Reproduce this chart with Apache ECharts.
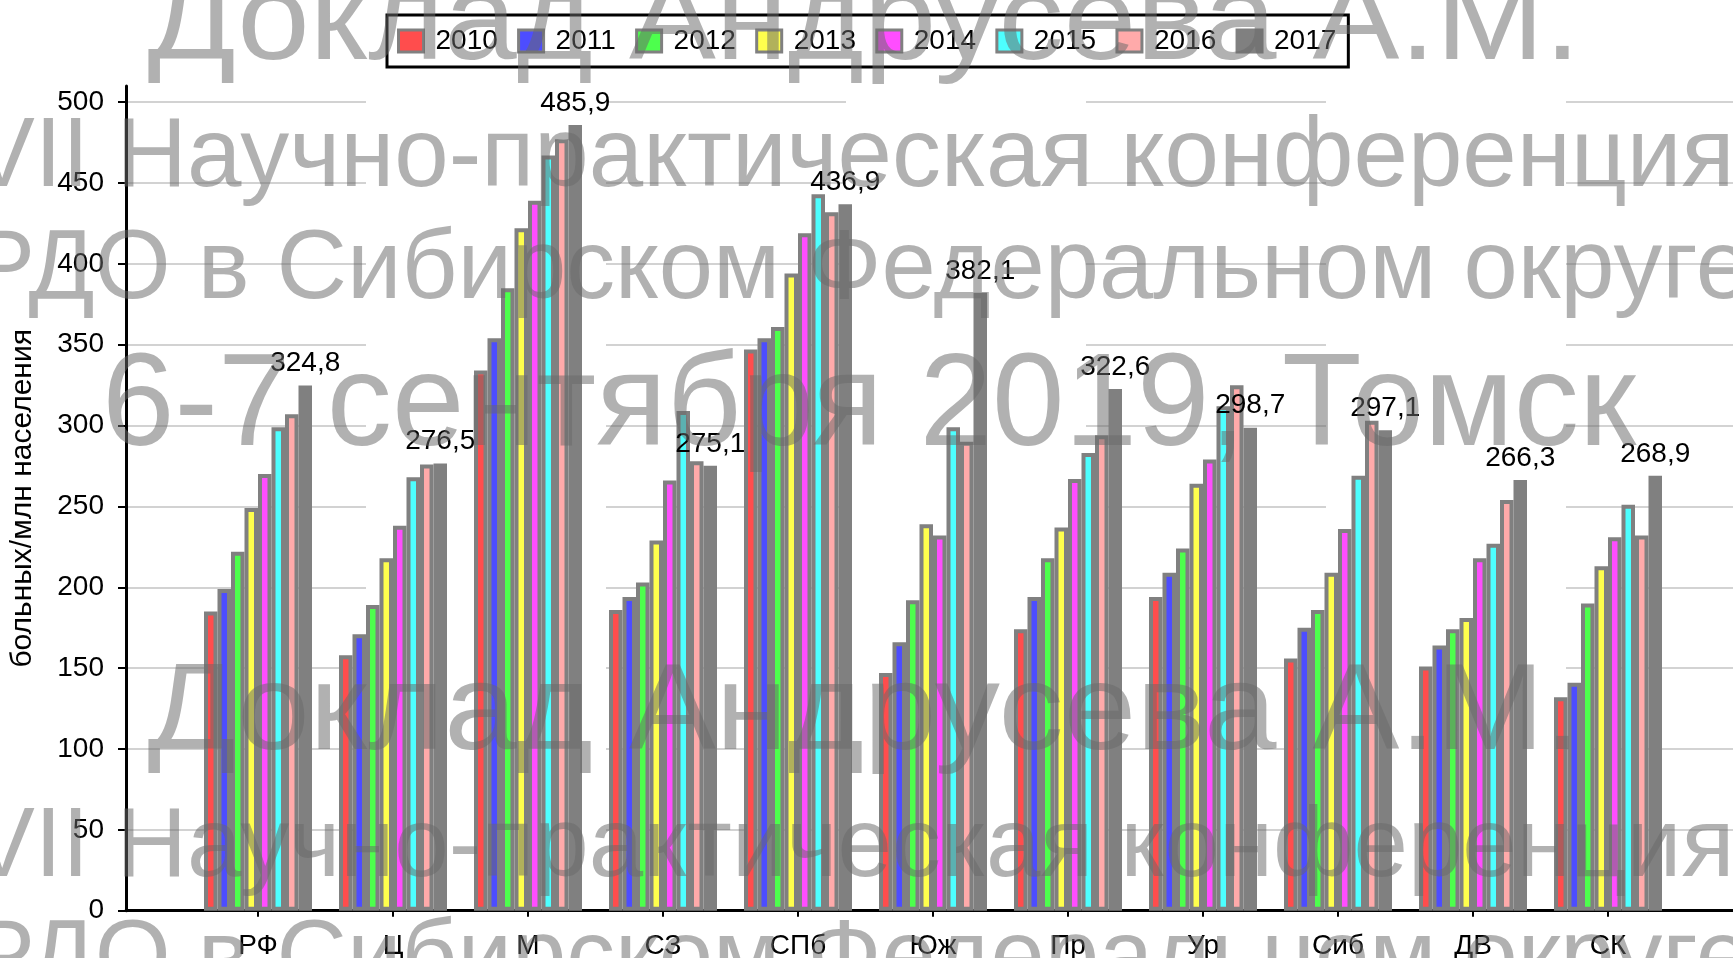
<!DOCTYPE html>
<html>
<head>
<meta charset="utf-8">
<title>больных/млн населения</title>
<script src="https://cdn.jsdelivr.net/npm/echarts@6.0.0/dist/echarts.min.js"></script>
<style>
  html, body { margin: 0; padding: 0; background: #fff; }
  #chart { width: 1733px; height: 958px; }
</style>
</head>
<body>
<div id="chart"></div>
<script>
// regions and years
var categories = ['РФ', 'Ц', 'М', 'СЗ', 'СПб', 'Юж', 'Пр', 'Ур', 'Сиб', 'ДВ', 'СК'];
var years = ['2010', '2011', '2012', '2013', '2014', '2015', '2016', '2017'];

// values per year (2017 values are labelled)
var v2010 = [185, 158, 334, 186, 347, 147, 174, 194, 156, 151, 132];
var v2011 = [199, 171, 354, 194, 354, 166, 194, 209, 175, 164, 141];
var v2012 = [222, 189, 385, 203, 361, 192, 218, 224, 186, 174, 190];
var v2013 = [249, 218, 422, 229, 394, 239, 237, 264, 209, 181, 213];
var v2014 = [270, 238, 439, 266, 419, 232, 267, 279, 236, 218, 231];
var v2015 = [299, 268, 467, 309, 443, 299, 283, 312, 269, 227, 251];
var v2016 = [307, 276, 477, 278, 432, 290, 294, 325, 303, 254, 232];
var v2017 = [324.8, 276.5, 485.9, 275.1, 436.9, 382.1, 322.6, 298.7, 297.1, 266.3, 268.9];

var yTicks = [0, 50, 100, 150, 200, 250, 300, 350, 400, 450, 500];

var seriesValues = [v2010, v2011, v2012, v2013, v2014, v2015, v2016, v2017];
var colors = ['#ff4d4d', '#4d4dff', '#4dff4d', '#ffff4d', '#ff4dff', '#4dffff', '#ffaaaa', '#808080'];

var FONT = "'Liberation Sans', Arial, sans-serif";

// watermark lines (overlay text of the slide)
var watermark = [
  { text: 'Доклад Андрусева А.М.', cx: 864, base: 68, size: 123, w: 1433 },
  { text: 'VII Научно-практическая конференция', cx: 852, base: 193, size: 98, w: 1765 },
  { text: 'РДО в Сибирском Федеральном округе', cx: 860, base: 305, size: 98, w: 1780 },
  { text: '6-7 сентября 2019, Томск', cx: 869, base: 455, size: 131, w: 1534 },
  { text: 'Доклад Андрусева А.М.', cx: 864, base: 758, size: 123, w: 1433 },
  { text: 'VII Научно-практическая конференция', cx: 852, base: 883, size: 98, w: 1765 },
  { text: 'РДО в Сибирском Федеральном округе', cx: 860, base: 995, size: 98, w: 1780 }
];

var measureCtx = document.createElement('canvas').getContext('2d');
var graphics = watermark.map(function (m) {
  measureCtx.font = m.size + 'px ' + FONT;
  var natural = measureCtx.measureText(m.text).width;
  return {
    type: 'text',
    x: m.cx,
    y: m.base - m.size * 0.35,
    scaleX: m.w / natural,
    z: 100,
    silent: true,
    style: {
      x: 0, y: 0,
      text: m.text,
      font: m.size + 'px ' + FONT,
      fill: 'rgba(105,105,105,0.52)',
      textAlign: 'center',
      textVerticalAlign: 'middle'
    }
  };
});

var chart = echarts.init(document.getElementById('chart'));

chart.setOption({
  animation: false,
  backgroundColor: '#fff',
  textStyle: { fontFamily: FONT },
  legend: {
    data: years,
    left: 387,
    top: 15,
    icon: 'rect',
    itemWidth: 25,
    itemHeight: 22,
    itemGap: 19.3,
    padding: [12, 12, 12, 10],
    borderColor: '#000',
    borderWidth: 3,
    itemStyle: { borderWidth: 3, borderColor: '#808080' },
    textStyle: { fontSize: 28, color: '#000', fontFamily: FONT, padding: [0, 0, 0, 7] }
  },
  grid: [
    { left: 190.5, right: 57.5, top: 86, bottom: 47.3, containLabel: false, outerBoundsMode: 'none' },
    { left: 126, right: 0, top: 86, bottom: 47.3, containLabel: false, outerBoundsMode: 'none' }
  ],
  xAxis: [
    {
      type: 'category',
      gridIndex: 0,
      data: categories,
      axisLine: { show: false },
      axisTick: { show: true, alignWithLabel: true, length: 6, lineStyle: { color: '#000', width: 2 } },
      axisLabel: { fontSize: 28, color: '#000', margin: 22, fontFamily: FONT },
      splitLine: { show: false }
    },
    {
      type: 'value',
      gridIndex: 1,
      min: 0,
      max: 1,
      axisLine: { show: true, lineStyle: { color: '#000', width: 3 } },
      axisTick: { show: false },
      axisLabel: { show: false },
      splitLine: { show: false }
    }
  ],
  yAxis: [
    { type: 'value', gridIndex: 0, min: 0, max: 510, show: false },
    {
      type: 'value',
      gridIndex: 1,
      min: 0,
      max: 510,
      interval: 50,
      name: 'больных/млн населения',
      nameLocation: 'middle',
      nameGap: 88,
      nameTextStyle: { fontSize: 30, color: '#000', fontFamily: FONT },
      axisLine: { show: true, lineStyle: { color: '#000', width: 3 } },
      axisTick: { show: true, length: 8, customValues: yTicks, lineStyle: { color: '#000', width: 2 } },
      axisLabel: { customValues: yTicks, margin: 22, fontSize: 28, color: '#000', fontFamily: FONT },
      splitLine: { show: true, lineStyle: { color: '#c4c4c4', width: 1.5, type: [240, 240] } }
    }
  ],
  graphic: graphics,
  series: seriesValues.map(function (vals, i) {
    var s = {
      name: years[i],
      type: 'bar',
      xAxisIndex: 0,
      yAxisIndex: 0,
      barWidth: 13.5,
      barGap: 0,
      itemStyle: { color: colors[i], borderColor: '#808080', borderWidth: 4 },
      data: vals
    };
    if (i === seriesValues.length - 1) {
      s.label = {
        show: true,
        position: 'top',
        distance: 8,
        fontSize: 28,
        color: '#000',
        fontFamily: FONT,
        formatter: function (p) { return String(p.value).replace('.', ','); }
      };
    }
    return s;
  })
});
</script>
</body>
</html>
